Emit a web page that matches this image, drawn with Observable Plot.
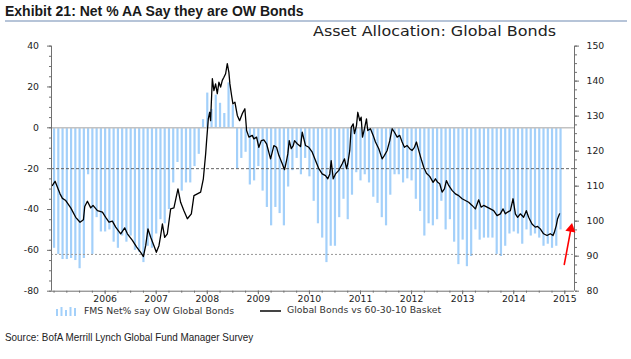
<!DOCTYPE html>
<html>
<head>
<meta charset="utf-8">
<script src="https://cdn.jsdelivr.net/npm/d3@7"></script>
<script src="https://cdn.jsdelivr.net/npm/@observablehq/plot@0.6"></script>
<style>
  body { margin: 0; background: #fff; }
  #wrap { position: relative; width: 631px; height: 359px; overflow: hidden; font-family: "DejaVu Sans", sans-serif; background: #fff; }
  #title { position: absolute; left: 5px; top: 3px; font: bold 14px "Liberation Sans", Arial, sans-serif; color: #1a1a1a; white-space: nowrap; transform: scaleX(1.0); transform-origin: left; }
  #rule { position: absolute; left: 5px; top: 20px; width: 622px; height: 2px; background: #b6c4d8; }
  #subtitle { position: absolute; left: 313px; top: 23px; font-size: 14px; color: #222; white-space: nowrap; transform: scaleX(1.14); transform-origin: left; z-index: 2; }
  #chart { position: absolute; left: 0; top: 35px; z-index: 1; }
  .leg { position: absolute; top: 305px; font-size: 9.3px; color: #333; white-space: nowrap; line-height: 11px; }
  #source { position: absolute; left: 5px; top: 331px; font: 11.5px "Liberation Sans", Arial, sans-serif; color: #222; white-space: nowrap; transform: scaleX(0.86); transform-origin: left; }
</style>
</head>
<body>
<div id="wrap">
  <div id="title">Exhibit 21: Net % AA Say they are OW Bonds</div>
  <div id="rule"></div>
  <div id="subtitle">Asset Allocation: Global Bonds</div>
  <div id="chart"></div>
  <div class="leg" style="left:55px;top:306px;">
    <svg width="23" height="10" style="display:block">
      <line x1="2" x2="2" y1="3" y2="10" stroke="#a3d0fa" stroke-width="2"/>
      <line x1="6.5" x2="6.5" y1="1" y2="10" stroke="#a3d0fa" stroke-width="2"/>
      <line x1="11" x2="11" y1="4" y2="10" stroke="#a3d0fa" stroke-width="2"/>
      <line x1="15.5" x2="15.5" y1="1" y2="10" stroke="#a3d0fa" stroke-width="2"/>
      <line x1="20" x2="20" y1="2" y2="10" stroke="#a3d0fa" stroke-width="2"/>
    </svg>
  </div>
  <div class="leg" style="left:84px;">FMS Net% say OW Global Bonds</div>
  <div class="leg" style="left:260px;top:310px;"><div style="width:21px;height:1.5px;background:#444"></div></div>
  <div class="leg" style="left:287px;top:304px;">Global Bonds vs 60-30-10 Basket</div>
  <div id="source">Source: BofA Merrill Lynch Global Fund Manager Survey</div>
</div>
<script>
// ---- Data ----
// FMS Net % of asset allocators overweight global bonds, monthly from Jan 2005 to Dec 2014 (left axis)
const barStartYear = 2005;
const barValues = [
  -59, -62, -64.5, -64.5, -64, -65, -69, -64, -23, -62, -44, -51,
  -51, -50, -56, -59, -53, -56, -53, -60, -61, -66, -58, -59,
  -52, -45, -47, -40, -27, -17, -31, -27, -27, -19, -13, 4,
  17, 9, 16, 12, 7, 22, 11, -20, -15, -12, -28, -26,
  -19, -31, -39, -48, -39, -42, -48, -29, -21, -15, -23, -15,
  -24, -36, -47, -54, -66, -58, -58, -44, -35, -45, -33, -22,
  -26, -23, -27, -34, -37, -44, -48, -33, -23, -23, -27, -25,
  -26, -35, -41, -53, -47, -48, -45, -36, -50, -45, -56, -67,
  -55, -68, -63, -50, -55, -54, -54, -54, -62, -63, -58, -52,
  -51, -52, -57, -50, -53, -52, -54, -58, -57, -59, -58, -50
];

// Global Bonds vs 60-30-10 basket (right axis), decimal year and index level
const lineYears = [
  2004.969, 2005.020, 2005.117, 2005.164, 2005.229, 2005.327, 2005.424, 2005.509, 2005.575, 2005.601,
  2005.653, 2005.718, 2005.763, 2005.849, 2005.947, 2006.011, 2006.076, 2006.142, 2006.207, 2006.305,
  2006.383, 2006.436, 2006.534, 2006.618, 2006.696, 2006.749, 2006.794, 2006.839, 2006.892, 2006.956,
  2007.003, 2007.054, 2007.087, 2007.121, 2007.166, 2007.218, 2007.283, 2007.347, 2007.426, 2007.478,
  2007.543, 2007.610, 2007.688, 2007.739, 2007.805, 2007.870, 2007.923, 2007.968, 2007.987, 2008.020,
  2008.046, 2008.065, 2008.099, 2008.130, 2008.163, 2008.196, 2008.228, 2008.261, 2008.294, 2008.326,
  2008.359, 2008.392, 2008.423, 2008.443, 2008.476, 2008.502, 2008.541, 2008.588, 2008.633, 2008.685,
  2008.736, 2008.770, 2008.815, 2008.881, 2008.912, 2008.965, 2009.010, 2009.057, 2009.108, 2009.161,
  2009.239, 2009.304, 2009.356, 2009.401, 2009.468, 2009.513, 2009.552, 2009.577, 2009.605, 2009.644,
  2009.683, 2009.709, 2009.761, 2009.826, 2009.859, 2009.924, 2009.988, 2010.055, 2010.119, 2010.184,
  2010.250, 2010.315, 2010.360, 2010.399, 2010.426, 2010.466, 2010.511, 2010.575, 2010.642, 2010.687,
  2010.726, 2010.751, 2010.790, 2010.818, 2010.857, 2010.882, 2010.921, 2010.947, 2010.986, 2011.013,
  2011.039, 2011.078, 2011.117, 2011.142, 2011.195, 2011.248, 2011.293, 2011.358, 2011.424, 2011.469,
  2011.522, 2011.573, 2011.620, 2011.665, 2011.718, 2011.768, 2011.815, 2011.860, 2011.913, 2011.964,
  2012.011, 2012.056, 2012.095, 2012.140, 2012.187, 2012.238, 2012.291, 2012.355, 2012.422, 2012.467,
  2012.512, 2012.551, 2012.598, 2012.643, 2012.682, 2012.727, 2012.793, 2012.858, 2012.922, 2012.989,
  2013.054, 2013.118, 2013.185, 2013.249, 2013.314, 2013.361, 2013.412, 2013.478, 2013.543, 2013.607,
  2013.674, 2013.738, 2013.791, 2013.836, 2013.881, 2013.934, 2013.987, 2014.032, 2014.077, 2014.129,
  2014.194, 2014.247, 2014.292, 2014.358, 2014.423, 2014.468, 2014.520, 2014.585, 2014.652, 2014.716,
  2014.769, 2014.795, 2014.834, 2014.859, 2014.898
];
const lineValues = [
  110.2, 111.4, 107.8, 106.5, 105.9, 103.8, 101.1, 99.7, 100.4, 104.2,
  105.7, 103.8, 104.5, 103.0, 102.6, 101.1, 99.7, 100.0, 98.3, 96.4,
  98.1, 96.4, 94.5, 92.6, 91.1, 89.9, 93.0, 97.8, 95.4, 93.0,
  91.1, 93.0, 95.9, 99.2, 95.4, 96.4, 103.5, 103.8, 109.2, 105.4,
  103.0, 100.7, 102.1, 107.3, 107.8, 108.3, 112.1, 119.2, 123.0, 129.2,
  131.1, 128.7, 140.7, 137.3, 139.2, 136.4, 139.7, 138.3, 140.2, 141.1,
  142.1, 145.0, 142.5, 139.2, 135.9, 133.5, 134.0, 130.2, 128.7, 130.7,
  132.1, 125.9, 124.0, 124.5, 123.5, 124.0, 121.1, 123.0, 123.2, 122.1,
  117.8, 121.6, 121.1, 118.8, 116.4, 114.7, 117.3, 119.2, 123.0, 120.7,
  121.6, 123.0, 122.1, 121.3, 125.4, 121.6, 121.1, 119.7, 117.3, 115.0,
  113.5, 113.0, 112.1, 113.5, 117.3, 112.1, 113.5, 114.5, 116.4, 117.8,
  115.0, 116.4, 120.2, 126.8, 127.8, 125.0, 127.3, 131.1, 128.7, 129.7,
  124.0, 126.4, 129.2, 125.9, 126.4, 124.5, 122.6, 120.7, 117.8, 118.8,
  120.2, 123.0, 126.4, 125.4, 124.0, 124.5, 122.6, 121.1, 121.6, 120.7,
  120.2, 121.1, 122.6, 120.2, 117.8, 115.4, 113.7, 112.8, 111.1, 112.1,
  111.1, 110.7, 108.3, 109.2, 111.6, 110.2, 108.8, 107.8, 107.3, 106.4,
  105.9, 105.4, 104.5, 103.5, 106.1, 104.0, 104.5, 104.0, 103.5, 103.0,
  101.6, 102.1, 103.5, 102.1, 102.6, 103.0, 106.4, 102.1, 101.1, 102.1,
  101.1, 103.0, 101.1, 99.2, 98.3, 98.5, 97.8, 96.4, 95.9, 96.4,
  95.9, 96.8, 98.8, 100.7, 102.1
];

const leftTicks = [-80, -60, -40, -20, 0, 20, 40];
const rightTicks = [80, 90, 100, 110, 120, 130, 140, 150];
const yearTicks = [2006, 2007, 2008, 2009, 2010, 2011, 2012, 2013, 2014, 2015];
const refDashed = -20;   // dashed reference level (left axis)
const refDotted = -62;   // dotted reference level (left axis)
// red annotation arrow (data units: decimal year, left-axis value)
const arrowAnnotation = [{x1: 2014.99, y1: -66.9, x2: 2015.121, y2: -49.4, tipX: 2015.121, tipY: -49.4}];

// ---- Scale helpers ----
const leftDomain = [-80, 40];
const rightDomain = [80, 150];
const xDomain = [2004.95, 2015.19];
const toLeft = r => leftDomain[0] + (r - rightDomain[0]) * (leftDomain[1] - leftDomain[0]) / (rightDomain[1] - rightDomain[0]);
const fromLeft = l => rightDomain[0] + (l - leftDomain[0]) * (rightDomain[1] - rightDomain[0]) / (leftDomain[1] - leftDomain[0]);

const bars = barValues.map((v, i) => ({x: barStartYear + i / 12, v}));
const line = lineYears.map((x, i) => ({x, v: toLeft(lineValues[i])}));

const leftMinor = d3.range(leftDomain[0], leftDomain[1] + 0.1, 5);
const rightMinor = d3.range(rightDomain[0], rightDomain[1] + 0.1, 2.5).map(toLeft);
const quarterTicks = d3.range(2005, 2015.2, 0.25).filter(d => d > xDomain[0] && d < xDomain[1]);

const axisColor = "#707070";

const chart = Plot.plot({
  width: 631,
  height: 271,
  marginLeft: 51,
  marginRight: 57,
  marginTop: 10.6,
  marginBottom: 15.3,
  x: {type: "linear", domain: xDomain},
  y: {domain: leftDomain},
  style: {fontFamily: "DejaVu Sans, sans-serif", fontSize: "9.3px", color: "#222", background: "transparent", overflow: "visible"},
  marks: [
    Plot.ruleX(bars, {x: "x", y1: 0, y2: "v", stroke: "#a3d0fa", strokeWidth: 2.2}),
    Plot.ruleY([0], {stroke: "#c2c2c2", strokeWidth: 1.6}),
    Plot.ruleY([refDashed], {stroke: "#555", strokeWidth: 0.9, strokeDasharray: "3,2"}),
    Plot.ruleY([refDotted], {stroke: "#999", strokeWidth: 1, strokeDasharray: "2,2"}),
    Plot.line(line, {x: "x", y: "v", stroke: "#000", strokeWidth: 1.3}),
    // axis lines
    Plot.ruleX([xDomain[0]], {stroke: axisColor}),
    Plot.ruleX([xDomain[1]], {stroke: axisColor}),
    Plot.ruleY([leftDomain[0]], {stroke: axisColor}),
    // left axis
    Plot.axisY({anchor: "left", ticks: leftMinor, tickSize: 2, tickFormat: () => "", stroke: axisColor, label: null}),
    Plot.axisY({anchor: "left", ticks: leftTicks, tickSize: 4, tickFormat: () => "", stroke: axisColor, label: null}),
    Plot.axisY({anchor: "left", ticks: leftTicks, tickSize: 0, tickPadding: 12.5, tickFormat: d => String(d), fill: "#222", label: null}),
    // right axis
    Plot.axisY({anchor: "right", ticks: rightMinor, tickSize: 2, tickFormat: () => "", stroke: axisColor, label: null}),
    Plot.axisY({anchor: "right", ticks: rightTicks.map(toLeft), tickSize: 4, tickFormat: () => "", stroke: axisColor, label: null}),
    Plot.axisY({anchor: "right", ticks: rightTicks.map(toLeft), tickSize: 0, tickPadding: 12, tickFormat: d => String(Math.round(fromLeft(d))), fill: "#222", label: null}),
    // bottom axis
    Plot.axisX({anchor: "bottom", ticks: quarterTicks, tickSize: 2, tickFormat: () => "", stroke: axisColor, label: null}),
    Plot.axisX({anchor: "bottom", ticks: yearTicks, tickSize: 3.5, tickPadding: 1, tickFormat: d => String(d), stroke: axisColor, fill: "#222", label: null}),
    // red annotation arrow
    Plot.arrow(arrowAnnotation, {x1: "x1", y1: "y1", x2: "x2", y2: "y2", stroke: "#ff0000", strokeWidth: 1.6, headLength: 0}),
    Plot.dot(arrowAnnotation, {x: "tipX", y: "tipY", symbol: "triangle", r: 3.8, fill: "#ff0000", stroke: "none", rotate: 10.5})
  ]
});
document.getElementById("chart").appendChild(chart);
</script>
</body>
</html>
